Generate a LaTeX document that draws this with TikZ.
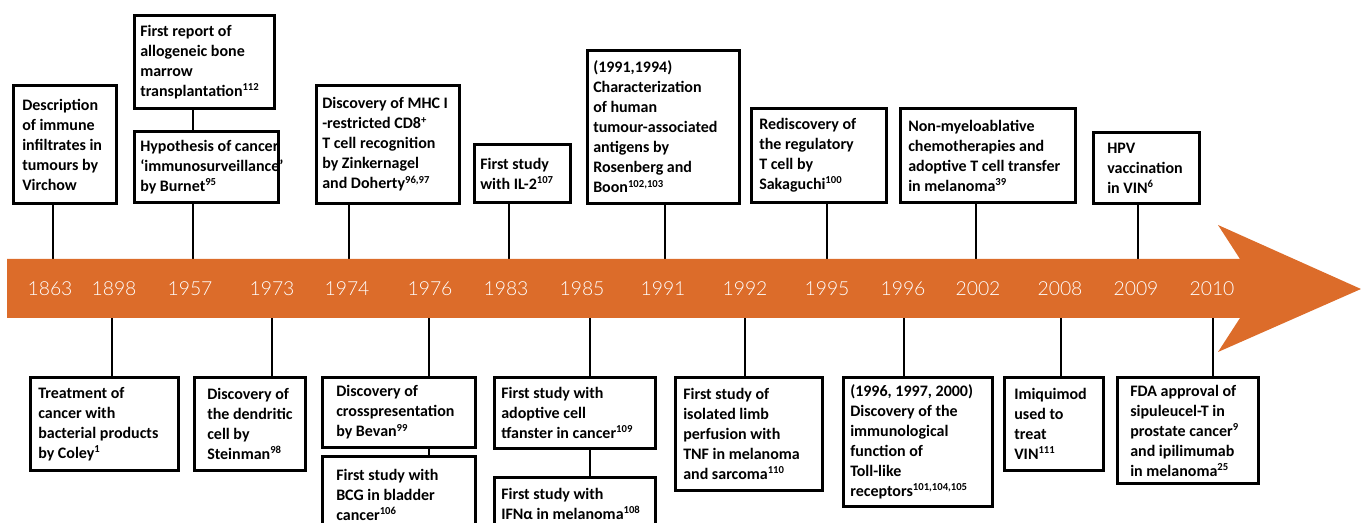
\documentclass[tikz,border=0pt]{standalone}
\usepackage{fontspec}
\setmainfont{Carlito}
\IfFontExistsTF{Lato Light}{\newfontfamily\yearfont{Lato Light}}{\newfontfamily\yearfont{Lato}}
\definecolor{orng}{RGB}{220,108,42}
\tikzset{
  box/.style={draw, line width=2.2pt, inner sep=0pt, anchor=north west},
  txt/.style={anchor=west, align=left, inner sep=0pt, font=\fontsize{12}{15}\selectfont\bfseries},
  conn/.style={line width=2.2pt},
  yr/.style={text=white, inner sep=0pt, font=\yearfont\fontsize{14.5}{16}\selectfont},
}
\newcommand\EvBox[7]{%
  \node[box, minimum width=#4*0.75pt, minimum height=#5*0.75pt] (#1) at (#2,#3) {};
  \node[txt] (#1t) at ([xshift=#6*0.75pt]#1.west) {#7};
}
\newcommand\Sp[1]{\textsuperscript{#1}}
\begin{document}
\begin{tikzpicture}[x=0.75pt,y=-0.75pt]
\useasboundingbox (0,0) rectangle (1361,523);
\clip (0,0) rectangle (1361,523);
\coordinate (bandT) at (0,259);
\coordinate (bandB) at (0,318);
% top boxes
\EvBox{b1}{12}{84}{103}{118}{10}{Description\\of immune\\infiltrates in\\tumours by\\Virchow}
\EvBox{b2}{133}{14}{140}{93}{7}{First report of\\allogeneic bone\\marrow\\transplantation\Sp{112}}
\EvBox{b3}{133}{130}{144}{71}{7}{Hypothesis of cancer\\‘immunosurveillance’\\by Burnet\Sp{95}}
\EvBox{b4}{315}{84}{143}{118}{7}{Discovery of MHC I\\-restricted CD8\Sp{+}\\T cell recognition\\by Zinkernagel\\and Doherty\Sp{96,97}}
\EvBox{b5}{473}{143}{96}{58}{7}{First study\\with IL-2\Sp{107}}
\EvBox{b6}{586}{49}{152}{153}{7}{(1991,1994)\\Characterization\\of human\\tumour-associated\\antigens by\\Rosenberg and\\Boon\Sp{102,103}}
\EvBox{b7}{750}{107}{135}{94}{9}{Rediscovery of\\the regulatory\\T cell by\\Sakaguchi\Sp{100}}
\EvBox{b8}{899}{107}{175}{94}{9}{Non-myeloablative\\chemotherapies and\\adoptive T cell transfer\\in melanoma\Sp{39}}
\EvBox{b9}{1092}{131}{106}{71}{15}{HPV\\vaccination\\in VIN\Sp{6}}
% bottom boxes
\EvBox{b10}{29}{376}{148}{93}{9}{Treatment of\\cancer with\\bacterial products\\by Coley\Sp{1}}
\EvBox{b11}{193}{376}{111}{93}{14}{Discovery of\\the dendritic\\cell by\\Steinman\Sp{98}}
\EvBox{b12}{321}{376}{153}{70}{15}{Discovery of\\crosspresentation\\by Bevan\Sp{99}}
\EvBox{b13}{321}{455}{153}{76}{15}{First study with\\BCG in bladder\\cancer\Sp{106}}
\EvBox{b14}{493}{376}{161}{71}{8}{First study with\\adoptive cell\\tfanster in cancer\Sp{109}}
\EvBox{b15}{493}{476}{161}{52}{8}{First study with\\IFNα in melanoma\Sp{108}}
\EvBox{b16}{674}{376}{147}{113}{9}{First study of\\isolated limb\\perfusion with\\TNF in melanoma\\and sarcoma\Sp{110}}
\EvBox{b17}{842}{376}{149}{129}{8}{(1996, 1997, 2000)\\Discovery of the\\immunological\\function of\\Toll-like\\receptors\Sp{101,104,105}}
\EvBox{b18}{1003}{376}{99}{93}{11}{Imiquimod\\used to\\treat\\VIN\Sp{111}}
\EvBox{b19}{1116}{376}{141}{106}{14}{FDA approval of\\sipuleucel-T in\\prostate cancer\Sp{9}\\and ipilimumab\\in melanoma\Sp{25}}
% connector x positions
\foreach \n/\x in {c1/53,c3/193,c4/349,c5/509,c6/665,c7/827,c8/976,c9/1138,
  c10/112,c11/272,c12/429,c14/590,c16/745,c17/904,c18/1061,c19/1213}
  {\coordinate (\n) at (\x,0);}
% top connectors
\draw[conn] (b1.south -| c1) -- (c1 |- bandT);
\draw[conn] (b2.south -| c3) -- (b3.north -| c3);
\draw[conn] (b3.south -| c3) -- (c3 |- bandT);
\draw[conn] (b4.south -| c4) -- (c4 |- bandT);
\draw[conn] (b5.south -| c5) -- (c5 |- bandT);
\draw[conn] (b6.south -| c6) -- (c6 |- bandT);
\draw[conn] (b7.south -| c7) -- (c7 |- bandT);
\draw[conn] (b8.south -| c8) -- (c8 |- bandT);
\draw[conn] (b9.south -| c9) -- (c9 |- bandT);
% bottom connectors
\draw[conn] (c10 |- bandB) -- (b10.north -| c10);
\draw[conn] (c11 |- bandB) -- (b11.north -| c11);
\draw[conn] (c12 |- bandB) -- (b12.north -| c12);
\draw[conn] (b12.south -| c12) -- (b13.north -| c12);
\draw[conn] (c14 |- bandB) -- (b14.north -| c14);
\draw[conn] (b14.south -| c14) -- (b15.north -| c14);
\draw[conn] (c16 |- bandB) -- (b16.north -| c16);
\draw[conn] (c17 |- bandB) -- (b17.north -| c17);
\draw[conn] (c18 |- bandB) -- (b18.north -| c18);
\draw[conn] (c19 |- bandB) -- (b19.north -| c19);
% timeline arrow
\fill[orng] (7,259) -- (1240,259) -- (1218,225) -- (1361,289) -- (1218,352) -- (1240,318) -- (7,318) -- cycle;
% years
\foreach \n/\x/\t in {y1/50/1863,y2/114/1898,y3/190/1957,y4/272/1973,y5/347/1974,y6/430/1976,
  y7/506/1983,y8/582/1985,y9/663/1991,y10/745/1992,y11/827/1995,y12/903/1996,
  y13/978/2002,y14/1060/2008,y15/1136/2009,y16/1212/2010}
  {\node[yr] (\n) at (\x,289) {\t};}
\end{tikzpicture}
\end{document}
